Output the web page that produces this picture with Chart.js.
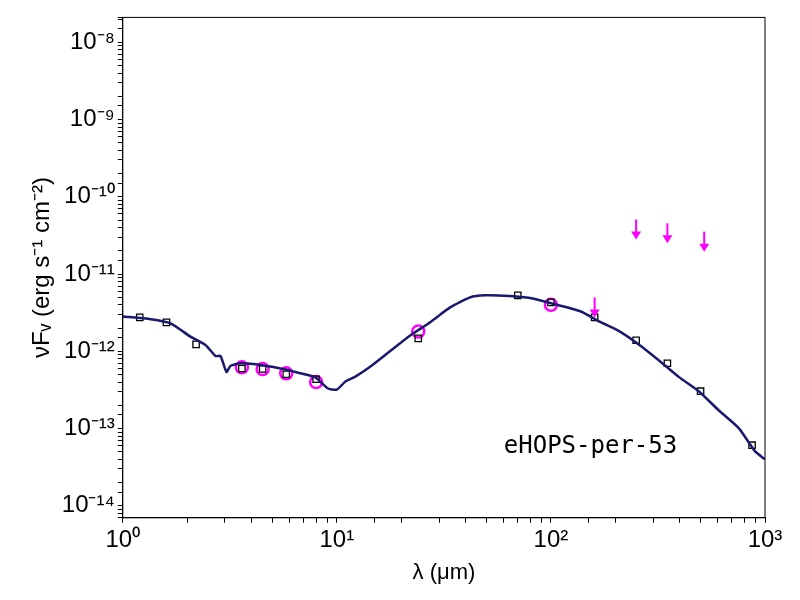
<!DOCTYPE html>
<html><head><meta charset="utf-8">
<script src="https://cdn.jsdelivr.net/npm/chart.js@4"></script>
<style>body{margin:0;background:#fff}#wrap{width:800px;height:600px}</style>
</head><body><div id="wrap"><canvas id="c"></canvas></div>
<script>
// model SED curve
const modelLam = [1,1.35,1.67,2.07,2.44,2.71,2.86,3.05,3.19,3.55,4.49,5.75,6.75,7.93,9.1,10,11,12.2,14.3,17.7,22,27.4,33.8,41.9,49.2,64,80,100,137,170,210,260,322,398,493,611,757,897,1000];
const modelFlux = [2.83e-12,2.6e-12,2.3e-12,1.55e-12,1.2e-12,8.7e-13,8.7e-13,5.4e-13,6.5e-13,7e-13,6.6e-13,5.8e-13,5.2e-13,4.6e-13,3.3e-13,3.2e-13,4.1e-13,4.7e-13,6.3e-13,1e-12,1.6e-12,2.4e-12,3.7e-12,5e-12,5.3e-12,5.2e-12,4.9e-12,4.2e-12,3.3e-12,2.4e-12,1.8e-12,1.2e-12,7.5e-13,4.6e-13,3e-13,1.7e-13,1e-13,5.1e-14,4e-14];
// photometry (squares)
const photLam = [1.2,1.6,2.2,3.6,4.5,5.8,8.0,24,70,100,160,250,350,500,870];
const photFlux = [2.75e-12,2.37e-12,1.23e-12,6.0e-13,5.9e-13,5.05e-13,4.35e-13,1.47e-12,5.3e-12,4.3e-12,2.75e-12,1.39e-12,7.0e-13,3.05e-13,6.1e-14];
// spectrum-derived points (circles)
const circLam = [3.6,4.5,5.8,8.0,24,100];
const circFlux = [6.2e-13,5.9e-13,5.2e-13,4.0e-13,1.8e-12,4.0e-12];
// upper limits
const limLam = [160,250,350,520];
const limFlux = [2.75e-12,2.8e-11,2.5e-11,1.95e-11];
const sourceName = 'eHOPS-per-53';

const sup = {'-':'⁻','0':'⁰','1':'¹','2':'²','3':'³','4':'⁴','5':'⁵','6':'⁶','7':'⁷','8':'⁸','9':'⁹'};
function pow10(v){
  const e = Math.log10(v);
  if (Math.abs(e - Math.round(e)) > 1e-6) return '';
  return '10' + String(Math.round(e)).split('').map(c => sup[c]).join('');
}
const pts = (xs, ys) => xs.map((x, i) => ({x: x, y: ys[i]}));

const extras = {
  id: 'extras',
  afterDatasetsDraw(chart) {
    const c = chart.ctx, xs = chart.scales.x, ys = chart.scales.y, a = chart.chartArea;
    c.save();
    c.strokeStyle = '#ff00ff'; c.fillStyle = '#ff00ff'; c.lineWidth = 2;
    limLam.forEach((l, i) => {
      const x = xs.getPixelForValue(l), y1 = ys.getPixelForValue(limFlux[i]);
      const y0 = y1 - 20;
      c.beginPath(); c.moveTo(x, y0); c.lineTo(x, y1 - 5); c.stroke();
      c.beginPath(); c.moveTo(x - 5, y1 - 8); c.lineTo(x + 5, y1 - 8); c.lineTo(x, y1); c.closePath(); c.fill();
    });
    c.fillStyle = '#000';
    c.font = '24px "DejaVu Sans Mono"';
    c.textAlign = 'left'; c.textBaseline = 'middle';
    c.fillText(sourceName, a.left + 381, a.top + 429);
    c.restore();
  }
};

new Chart(document.getElementById('c'), {
  type: 'scatter',
  data: { datasets: [
    { data: pts(modelLam, modelFlux), showLine: true, borderColor: '#191970', borderWidth: 2.5, pointRadius: 0, tension: 0.2 },
    { data: pts(photLam, photFlux), pointStyle: 'rect', pointRadius: 4.5, borderColor: '#000', borderWidth: 1.3, backgroundColor: 'rgba(0,0,0,0)' },
    { data: pts(circLam, circFlux), pointStyle: 'circle', pointRadius: 6, borderColor: '#ff00ff', borderWidth: 2.5, backgroundColor: 'rgba(0,0,0,0)' }
  ]},
  options: {
    responsive: true, maintainAspectRatio: false, animation: false,
    layout: { padding: { top: 15, right: 35, left: 26, bottom: 12 } },
    plugins: { legend: { display: false }, tooltip: { enabled: false } },
    scales: {
      x: { type: 'logarithmic', min: 1, max: 1000,
        border: { color: '#000', width: 1 },
        grid: { drawOnChartArea: false, color: '#000', tickLength: 5 },
        ticks: { color: '#000', font: { size: 24, family: 'Liberation Sans' }, maxRotation: 0, autoSkip: false, callback: v => pow10(v) },
        title: { display: true, text: 'λ (μm)', color: '#000', font: { size: 22, family: 'Liberation Sans' }, padding: 2 } },
      y: { type: 'logarithmic', min: 7e-15, max: 2.1e-8,
        border: { color: '#000', width: 1 },
        grid: { drawOnChartArea: false, color: '#000', tickLength: 5 },
        ticks: { color: '#000', font: { size: 24, family: 'Liberation Sans' }, autoSkip: false, callback: v => pow10(v) },
        title: { display: true, text: 'νFᵥ (erg s⁻¹ cm⁻²)', color: '#000', font: { size: 24, family: 'Liberation Sans' }, padding: 2 } }
    }
  },
  plugins: [extras, {
    id: 'frame',
    afterDraw(chart) {
      const c = chart.ctx, a = chart.chartArea;
      c.save(); c.strokeStyle = '#000'; c.lineWidth = 1;
      c.strokeRect(a.left, a.top, a.right - a.left, a.bottom - a.top);
      c.restore();
    }
  }]
});
</script></body></html>
